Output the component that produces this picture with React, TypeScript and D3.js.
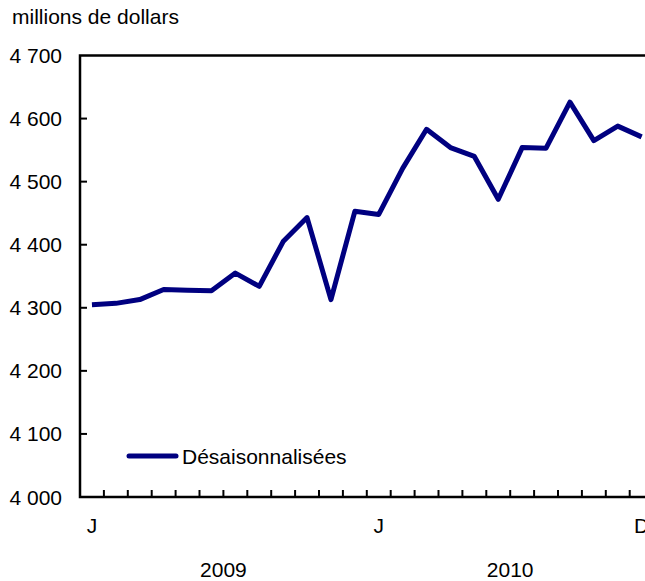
import { useEffect, useRef } from "react";
import * as d3 from "d3";

// monthly values, Jan 2009 - Dec 2010 (millions de dollars)
const months = [
  "2009-01", "2009-02", "2009-03", "2009-04", "2009-05", "2009-06",
  "2009-07", "2009-08", "2009-09", "2009-10", "2009-11", "2009-12",
  "2010-01", "2010-02", "2010-03", "2010-04", "2010-05", "2010-06",
  "2010-07", "2010-08", "2010-09", "2010-10", "2010-11", "2010-12",
];
const desaisonnalisees = [
  4305, 4307, 4313, 4329, 4328, 4327, 4355, 4334, 4405, 4443, 4313, 4453,
  4448, 4521, 4583, 4554, 4540, 4472, 4554, 4553, 4626, 4565, 4588, 4571,
];
const yTicks = [4000, 4100, 4200, 4300, 4400, 4500, 4600, 4700];
const monthLabels: Record<number, string> = { 0: "J", 12: "J", 23: "D" };
const years = ["2009", "2010"];

const App = () => {
  const ref = useRef<SVGSVGElement>(null);

  useEffect(() => {
    const svg = d3.select(ref.current);
    svg.selectAll("*").remove();

    const MARGIN = { TOP: 55.5, LEFT: 80, BOTTOM: 497 };
    const BAND = 23.9;
    const font = "'Liberation Sans', Arial, Helvetica, sans-serif";

    const x = d3.scaleBand<string>()
      .domain(months)
      .range([MARGIN.LEFT, MARGIN.LEFT + BAND * months.length]);
    const y = d3.scaleLinear().domain([4000, 4700]).range([MARGIN.BOTTOM, MARGIN.TOP]);

    const g = svg.append("g").style("font-family", font).style("font-size", "21px");

    // title
    g.append("text").attr("x", 12).attr("y", 24).text("millions de dollars");

    // frame
    g.append("path")
      .attr("d", `M${x.range()[1]},${MARGIN.TOP}H${MARGIN.LEFT}V${MARGIN.BOTTOM}H${x.range()[1]}`)
      .attr("fill", "none")
      .attr("stroke", "#000")
      .attr("stroke-width", 2.5);

    // y ticks
    yTicks.forEach((t) => {
      if (t !== 4000 && t !== 4700) {
        g.append("line")
          .attr("x1", MARGIN.LEFT).attr("x2", MARGIN.LEFT + 7)
          .attr("y1", y(t)).attr("y2", y(t))
          .attr("stroke", "#000").attr("stroke-width", 2);
      }
      g.append("text")
        .attr("x", 62).attr("y", y(t)).attr("dy", "0.36em")
        .attr("text-anchor", "end")
        .text(d3.format(",")(t).replace(",", " "));
    });

    // x ticks between months
    months.forEach((m, i) => {
      if (i === 0) return;
      const xp = x(m)!;
      g.append("line")
        .attr("x1", xp).attr("x2", xp)
        .attr("y1", MARGIN.BOTTOM).attr("y2", MARGIN.BOTTOM - 7)
        .attr("stroke", "#000").attr("stroke-width", 2);
    });

    Object.entries(monthLabels).forEach(([i, lab]) => {
      const m = months[+i];
      g.append("text")
        .attr("x", x(m)! + x.bandwidth() / 2)
        .attr("y", 533)
        .attr("text-anchor", "middle")
        .text(lab);
    });

    years.forEach((yr, k) => {
      const first = months[k * 12];
      g.append("text")
        .attr("x", x(first)! + (BAND * 12) / 2)
        .attr("y", 577)
        .attr("text-anchor", "middle")
        .text(yr);
    });

    // series line
    const line = d3.line<number>()
      .x((_, i) => x(months[i])! + x.bandwidth() / 2)
      .y((d) => y(d));

    g.append("path")
      .datum(desaisonnalisees)
      .attr("fill", "none")
      .attr("stroke", "#000080")
      .attr("stroke-width", 5)
      .attr("stroke-linejoin", "round")
      .attr("d", line);

    // legend
    g.append("line")
      .attr("x1", 129).attr("x2", 176)
      .attr("y1", 456).attr("y2", 456)
      .attr("stroke", "#000080").attr("stroke-width", 5)
      .attr("stroke-linecap", "round");
    g.append("text").attr("x", 182).attr("y", 464).text("Désaisonnalisées");
  }, []);

  return (
    <svg
      ref={ref}
      width={645}
      height={581}
      style={{ position: "absolute", left: 0, top: 0, background: "#fff" }}
    />
  );
};

export default App;
